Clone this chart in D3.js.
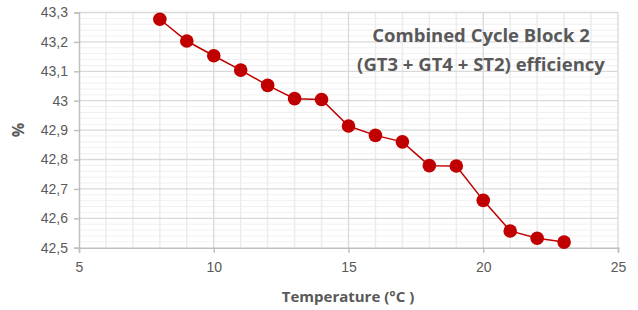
<!DOCTYPE html>
<html lang="en">
<head>
<meta charset="UTF-8">
<title>Combined Cycle Block 2 efficiency</title>
<script src="https://d3js.org/d3.v7.min.js"></script>
<style>
  body { margin: 0; background: #fff; }
  svg { display: block; font-family: "Open Sans", "Noto Sans", sans-serif; }
  .tick text { fill: #595959; font-size: 14px; }
</style>
</head>
<body>
<svg id="chart" width="638" height="310"></svg>
<script>
// data
const temperature = [8, 9, 10, 11, 12, 13, 14, 15, 16, 17, 18, 19, 20, 21, 22, 23];
const efficiency = [43.277, 43.203, 43.153, 43.104, 43.052, 43.007, 43.004, 42.914, 42.882, 42.860,
                    42.779, 42.778, 42.661, 42.557, 42.532, 42.519];
const xTicks = [5, 10, 15, 20, 25];
const yTicks = [42.5, 42.6, 42.7, 42.8, 42.9, 43, 43.1, 43.2, 43.3];
const titleLines = ["Combined Cycle Block 2", "(GT3 + GT4 + ST2) efficiency"];

const margin = { top: 12.5, right: 20, bottom: 62.3, left: 79 };
const width = 638, height = 310;

const svg = d3.select("#chart");
const g = svg.append("g").attr("transform", `translate(${margin.left},${margin.top})`);
const w = width - margin.left - margin.right;
const h = height - margin.top - margin.bottom;

const x = d3.scaleLinear().domain([5, 25]).range([0, w]);
const y = d3.scaleLinear().domain([42.5, 43.3]).range([h, 0]);

const comma = d3.formatLocale({ decimal: ",", thousands: ".", grouping: [3], currency: ["", ""] });
const fmt = v => comma.format("~g")(v);

// minor grid
g.append("g")
  .selectAll("line")
  .data(d3.range(42.52, 43.3, 0.02).filter(v => Math.abs(Math.round(v * 10) - v * 10) > 0.01))
  .join("line")
  .attr("x1", 0).attr("x2", w)
  .attr("y1", d => y(d)).attr("y2", d => y(d))
  .attr("stroke", "#f0f0f0").attr("stroke-width", 1);

g.append("g")
  .selectAll("line")
  .data(d3.range(6, 25).filter(v => v % 5 !== 0))
  .join("line")
  .attr("x1", d => x(d)).attr("x2", d => x(d))
  .attr("y1", 0).attr("y2", h)
  .attr("stroke", "#ececec").attr("stroke-width", 1.5);

// major grid
g.append("g")
  .selectAll("line")
  .data(yTicks.slice(1))
  .join("line")
  .attr("x1", 0).attr("x2", w)
  .attr("y1", d => y(d)).attr("y2", d => y(d))
  .attr("stroke", "#d9d9d9").attr("stroke-width", 1.3);

g.append("g")
  .selectAll("line")
  .data(xTicks.slice(1))
  .join("line")
  .attr("x1", d => x(d)).attr("x2", d => x(d))
  .attr("y1", 0).attr("y2", h)
  .attr("stroke", "#d9d9d9").attr("stroke-width", 1.3);

// axes
const xAxis = g.append("g")
  .attr("transform", `translate(0,${h})`)
  .call(d3.axisBottom(x).tickValues(xTicks).tickSize(5).tickPadding(9).tickFormat(fmt));
const yAxis = g.append("g")
  .call(d3.axisLeft(y).tickValues(yTicks).tickSize(5).tickPadding(6).tickFormat(fmt));
[xAxis, yAxis].forEach(a => {
  a.select(".domain").attr("stroke", "#bfbfbf").attr("stroke-width", 1.5);
  a.selectAll(".tick line").attr("stroke", "#bfbfbf").attr("stroke-width", 1.5);
  a.selectAll("text").attr("font-family", null);
});

// series
g.append("path")
  .datum(temperature)
  .attr("fill", "none")
  .attr("stroke", "#c00000")
  .attr("stroke-width", 1.5)
  .attr("d", d3.line().x(d => x(d)).y((d, i) => y(efficiency[i])));

g.append("g")
  .selectAll("circle")
  .data(temperature)
  .join("circle")
  .attr("cx", d => x(d))
  .attr("cy", (d, i) => y(efficiency[i]))
  .attr("r", 6.8)
  .attr("fill", "#c00000");

// titles
svg.append("g")
  .selectAll("text")
  .data(titleLines)
  .join("text")
  .attr("x", 481)
  .attr("y", (d, i) => 42 + i * 29)
  .attr("text-anchor", "middle")
  .attr("fill", "#595959")
  .attr("font-weight", "bold")
  .attr("font-size", 18.5)
  .text(d => d);

svg.append("text")
  .attr("x", 348).attr("y", 302)
  .attr("text-anchor", "middle")
  .attr("fill", "#595959").attr("font-weight", "bold").attr("font-size", 15)
  .text("Temperature (°C )");

svg.append("text")
  .attr("transform", "translate(24,130) rotate(-90)")
  .attr("text-anchor", "middle")
  .attr("fill", "#595959").attr("font-weight", "bold").attr("font-size", 16)
  .text("%");
</script>
</body>
</html>
